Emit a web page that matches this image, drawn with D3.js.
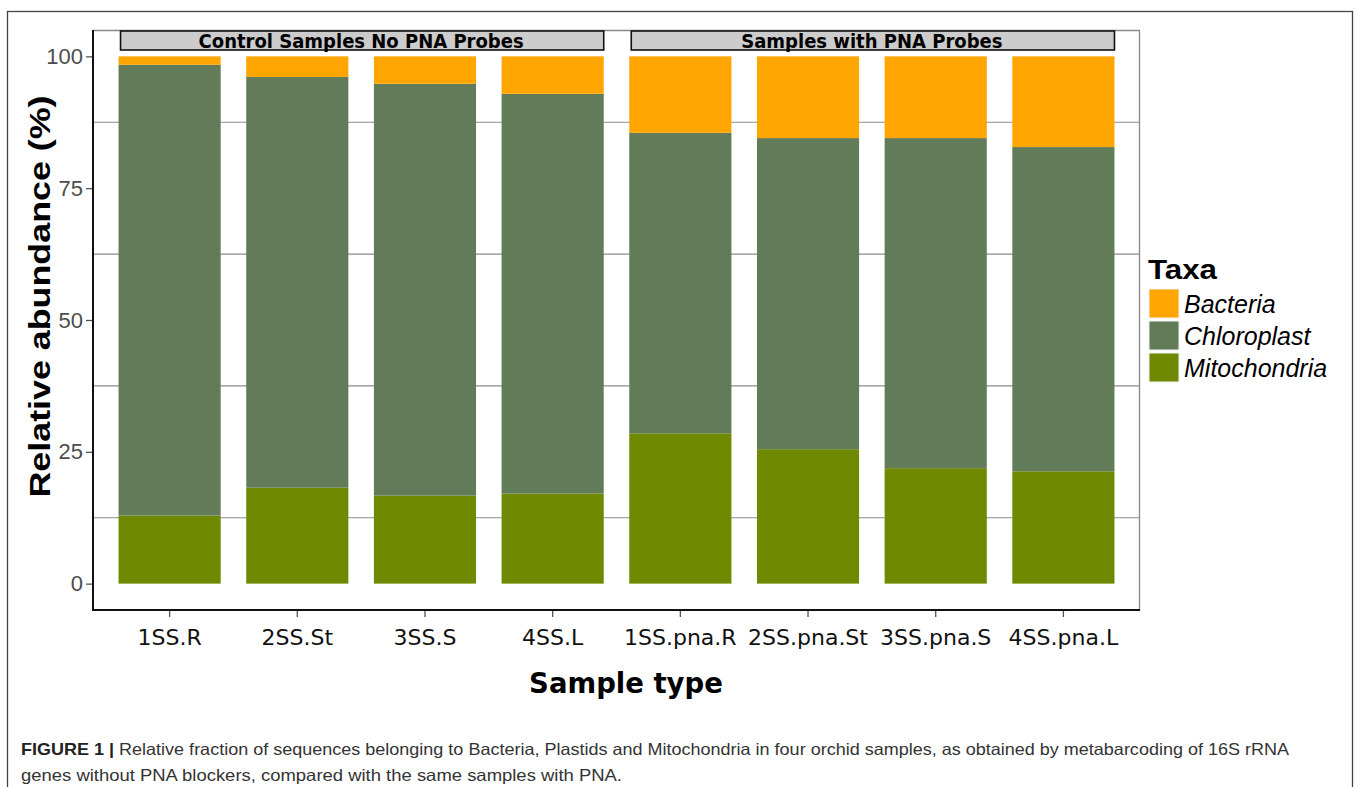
<!DOCTYPE html>
<html>
<head>
<meta charset="utf-8">
<script src="https://cdn.jsdelivr.net/npm/d3@7"></script>
<style>
  body { margin: 0; background: #fff; }
  svg { display: block; }
</style>
</head>
<body>
<svg width="1357" height="787"></svg>
<script>
const svg = d3.select('svg');

// DATA
const samples = ['1SS.R', '2SS.St', '3SS.S', '4SS.L', '1SS.pna.R', '2SS.pna.St', '3SS.pna.S', '4SS.pna.L'];
const mitochondria = [12.9, 18.2, 16.7, 17.1, 28.5, 25.5, 21.9, 21.3];
const chloroplast = [85.5, 77.9, 78.1, 75.8, 57.0, 59.0, 62.6, 61.5];
const bacteria = [1.6, 3.9, 5.2, 7.1, 14.5, 15.5, 15.5, 17.2];
const taxa = ['Bacteria', 'Chloroplast', 'Mitochondria'];
const taxaColors = ['#ffa500', '#627c59', '#6f8a00'];
const groupLabels = ['Control Samples No PNA Probes', 'Samples with PNA Probes'];
const groupMembers = [samples.slice(0, 4), samples.slice(4)];
const yTicks = [0, 25, 50, 75, 100];
const gridValues = [12.5, 37.5, 62.5, 87.5];

const rows = samples.map((s, i) => ({
  sample: s,
  Mitochondria: mitochondria[i],
  Chloroplast: chloroplast[i],
  Bacteria: bacteria[i]
}));

// LAYOUT
const panel = { left: 93, right: 1140, top: 30, bottom: 610 };

const x = d3.scaleBand()
  .domain(samples)
  .range([panel.left, panel.right])
  .paddingInner(0.2)
  .paddingOuter(0.2);

const y = d3.scaleLinear()
  .domain([-5, 105])
  .range([panel.bottom, panel.top]);

const color = d3.scaleOrdinal().domain(taxa).range(taxaColors);

// outer figure frame
svg.append('rect')
  .attr('x', 7.5).attr('y', 11.5)
  .attr('width', 1345).attr('height', 800)
  .attr('fill', 'none')
  .attr('stroke', '#444')
  .attr('stroke-width', 1.3);

// grid
svg.append('g')
  .selectAll('line')
  .data(gridValues)
  .join('line')
    .attr('x1', panel.left).attr('x2', panel.right)
    .attr('y1', d => y(d)).attr('y2', d => y(d))
    .attr('stroke', '#8c8c8c')
    .attr('stroke-width', 1.2);

// panel border (top + right grey)
svg.append('path')
  .attr('d', `M${panel.left},${panel.top + 0.5} H${panel.right - 0.5} V${panel.bottom}`)
  .attr('fill', 'none')
  .attr('stroke', '#888')
  .attr('stroke-width', 1.3);

// STACKED BARS
const stack = d3.stack().keys(['Mitochondria', 'Chloroplast', 'Bacteria']);
const series = stack(rows);

svg.append('g')
  .selectAll('g')
  .data(series)
  .join('g')
    .attr('fill', d => color(d.key))
  .selectAll('rect')
  .data(d => d)
  .join('rect')
    .attr('x', d => x(d.data.sample))
    .attr('width', x.bandwidth())
    .attr('y', d => y(d[1]))
    .attr('height', d => y(d[0]) - y(d[1]));

// STRIP LABELS
const strips = svg.append('g')
  .selectAll('g')
  .data(groupLabels.map((label, i) => ({ label, members: groupMembers[i] })))
  .join('g');

strips.append('rect')
  .attr('x', d => x(d.members[0]) + 2)
  .attr('width', d => x(d.members[d.members.length - 1]) + x.bandwidth() - x(d.members[0]) - 2)
  .attr('y', panel.top + 1)
  .attr('height', 19)
  .attr('fill', '#cccccc')
  .attr('stroke', '#111')
  .attr('stroke-width', 1.6);

strips.append('text')
  .attr('x', d => (x(d.members[0]) + x(d.members[d.members.length - 1]) + x.bandwidth()) / 2)
  .attr('y', panel.top + 17.5)
  .attr('text-anchor', 'middle')
  .attr('font-family', 'DejaVu Sans Condensed, DejaVu Sans')
  .attr('font-weight', 'bold')
  .attr('font-size', 20)
  .attr('fill', '#000')
  .text(d => d.label);

// AXES
const yAxis = svg.append('g')
  .attr('transform', `translate(${panel.left},0)`)
  .call(d3.axisLeft(y).tickValues(yTicks).tickSize(7).tickPadding(3).tickFormat(d3.format('d')));
yAxis.select('.domain').remove();
yAxis.selectAll('.tick line').attr('stroke', '#555').attr('stroke-width', 1.3);
yAxis.selectAll('.tick text')
  .attr('font-family', 'Liberation Sans, Arial, sans-serif')
  .attr('font-size', 22)
  .attr('fill', '#4d4d4d');

const xAxis = svg.append('g')
  .attr('transform', `translate(0,${panel.bottom})`)
  .call(d3.axisBottom(x).tickSize(7).tickPadding(12));
xAxis.select('.domain').remove();
xAxis.selectAll('.tick line').attr('stroke', '#555').attr('stroke-width', 1.3);
xAxis.selectAll('.tick text')
  .attr('font-family', 'DejaVu Sans')
  .attr('font-size', 22)
  .attr('fill', '#111');

// axis lines (black)
svg.append('path')
  .attr('d', `M${panel.left},${panel.top} V${panel.bottom} H${panel.right}`)
  .attr('fill', 'none')
  .attr('stroke', '#111')
  .attr('stroke-width', 2);

// AXIS TITLES
svg.append('text')
  .attr('transform', `translate(50,${(95 + 498) / 2}) rotate(-90)`)
  .attr('text-anchor', 'middle')
  .attr('font-family', 'Liberation Sans, Arial, sans-serif')
  .attr('font-weight', 'bold')
  .attr('font-size', 30)
  .attr('textLength', 402)
  .attr('lengthAdjust', 'spacingAndGlyphs')
  .text('Relative abundance (%)');

svg.append('text')
  .attr('x', 626)
  .attr('y', 693)
  .attr('text-anchor', 'middle')
  .attr('font-family', 'DejaVu Sans')
  .attr('font-weight', 'bold')
  .attr('font-size', 27.5)
  .text('Sample type');

// LEGEND
const legend = svg.append('g').attr('transform', 'translate(1149,0)');
legend.append('text')
  .attr('x', -1).attr('y', 279)
  .attr('font-family', 'Liberation Sans, Arial, sans-serif')
  .attr('font-weight', 'bold')
  .attr('font-size', 27)
  .attr('textLength', 69)
  .attr('lengthAdjust', 'spacingAndGlyphs')
  .text('Taxa');

const keys = legend.selectAll('g.key')
  .data(taxa)
  .join('g')
    .attr('class', 'key')
    .attr('transform', (d, i) => `translate(0,${289 + i * 32})`);
keys.append('rect')
  .attr('width', 30).attr('height', 29)
  .attr('fill', d => color(d))
  .attr('stroke', '#f2f2f2')
  .attr('stroke-width', 1);
keys.append('text')
  .attr('x', 35).attr('y', 24)
  .attr('font-family', 'Liberation Sans, Arial, sans-serif')
  .attr('font-style', 'italic')
  .attr('font-size', 25)
  .text(d => d);

// CAPTION
const cap1 = svg.append('text')
  .attr('x', 21).attr('y', 755)
  .attr('font-family', 'Liberation Sans, Arial, sans-serif')
  .attr('font-size', 16.5)
  .attr('fill', '#333')
  .attr('textLength', 1268)
  .attr('lengthAdjust', 'spacingAndGlyphs');
cap1.append('tspan').attr('font-weight', 'bold').attr('fill', '#222').text('FIGURE 1 | ');
cap1.append('tspan').text('Relative fraction of sequences belonging to Bacteria, Plastids and Mitochondria in four orchid samples, as obtained by metabarcoding of 16S rRNA');

svg.append('text')
  .attr('x', 21).attr('y', 781)
  .attr('font-family', 'Liberation Sans, Arial, sans-serif')
  .attr('font-size', 16.5)
  .attr('fill', '#333')
  .attr('textLength', 601)
  .attr('lengthAdjust', 'spacingAndGlyphs')
  .text('genes without PNA blockers, compared with the same samples with PNA.');
</script>
</body>
</html>
